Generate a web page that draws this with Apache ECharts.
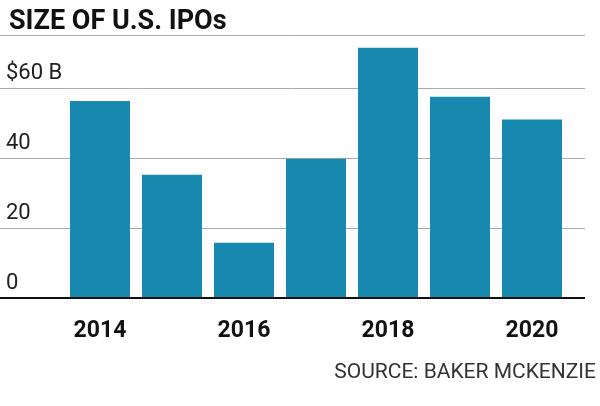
<!DOCTYPE html>
<html><head><meta charset="utf-8">
<script src="https://cdn.jsdelivr.net/npm/echarts@6/dist/echarts.min.js"></script>
<style>html,body{margin:0;padding:0;background:#fff}#c{width:600px;height:406px}</style>
</head><body><div id="c"></div>
<script>
var years = ['2014','2015','2016','2017','2018','2019','2020'];
var ipoSize = [56.3, 35.2, 15.8, 39.8, 71.5, 57.5, 51];
var yTicks = {0:'0', 20:'20', 40:'40', 60:'$60 B'};

var myChart = echarts.init(document.getElementById('c'));
var font = "'Liberation Sans Narrow','Roboto','DejaVu Sans Condensed',sans-serif";
option = {
    animation: false,
    title: {
        text: 'SIZE OF U.S. IPOs', left: 4, top: 4,
        textStyle: {fontFamily: font, fontWeight: 'bold', fontSize: 27, color: '#111'}
    },
    graphic: [{
        type: 'text', right: 4, top: 362,
        style: {text: 'SOURCE: BAKER MCKENZIE', font: '21px ' + font, fill: '#333'}
    }],
    grid: [
        {left: 64, right: 32, top: 35.5, bottom: 108},   // bars
        {left: 0, right: 15, top: 35.5, bottom: 108}     // gridlines
    ],
    xAxis: [
        {
            gridIndex: 0, type: 'category', data: years,
            axisLine: {show: false}, axisTick: {show: false},
            axisLabel: {
                interval: 1, margin: 22, color: '#111',
                fontFamily: font, fontWeight: 'bold', fontSize: 23
            }
        },
        {gridIndex: 1, type: 'value', min: 0, max: 1, show: false}
    ],
    yAxis: [
        {gridIndex: 0, type: 'value', min: 0, max: 75, show: false},
        {
            gridIndex: 1, type: 'value', min: 0, max: 75, interval: 20,
            axisLine: {show: false}, axisTick: {show: false},
            splitLine: {lineStyle: {color: '#aaa', width: 1}},
            axisLabel: {
                inside: true, margin: 6, verticalAlign: 'bottom', padding: [0, 0, 4, 0],
                color: '#222', fontFamily: font, fontSize: 22,
                formatter: function (v) { return yTicks[v] || ''; }
            }
        }
    ],
    series: [
        {
            type: 'bar', xAxisIndex: 0, yAxisIndex: 0, data: ipoSize,
            barWidth: 60, itemStyle: {color: '#1889ae'}, z: 3
        },
        {
            type: 'line', xAxisIndex: 1, yAxisIndex: 1, data: [[0, 0], [1, 0]],
            symbol: 'none', lineStyle: {color: '#111', width: 2}, z: 4
        }
    ]
};
myChart.setOption(option);
</script></body></html>
